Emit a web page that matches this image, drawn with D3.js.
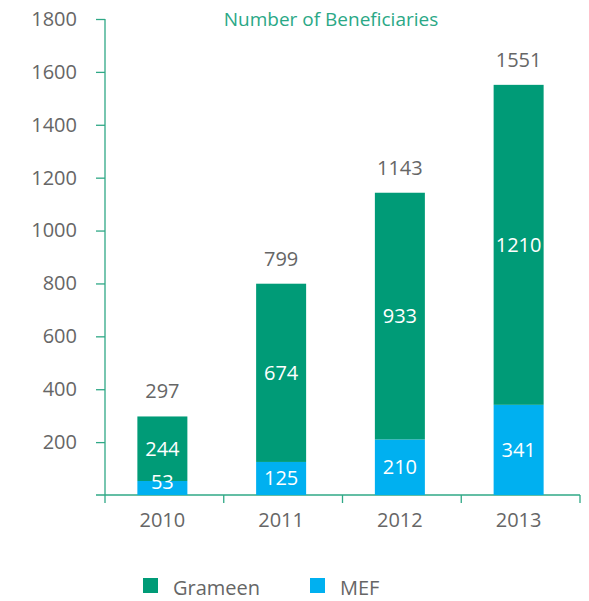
<!DOCTYPE html>
<html>
<head>
<meta charset="utf-8">
<script src="https://cdn.jsdelivr.net/npm/d3@7"></script>
<style>
  body { margin: 0; background: #fff; }
  svg text { font-family: "Open Sans", "Noto Sans", sans-serif; }
  .axis path, .axis line { stroke: #2fa886; stroke-width: 1.3; }
  .axis text { fill: #666; font-size: 20px; }
</style>
</head>
<body>
<div id="chart"></div>
<script>
'use strict';

// data
const years = ['2010', '2011', '2012', '2013'];
const grameen = [244, 674, 933, 1210];
const mef = [53, 125, 210, 341];
const totals = [297, 799, 1143, 1551];
const y_ticks = [200, 400, 600, 800, 1000, 1200, 1400, 1600, 1800];

const svg_width = 589, svg_height = 601;
const colors = { grameen: '#009b77', mef: '#00b0f0' };

const svg = d3.select('#chart').append('svg')
    .attr('width', svg_width)
    .attr('height', svg_height);

// scales
const scale_x = d3.scaleBand().domain(years).range([105, 580]);
const scale_y = d3.scaleLinear().domain([0, 1800]).range([495, 19]);
const bar_w = 50;

// y axis (line + ticks)
const axis_y = svg.append('g')
    .attr('class', 'axis')
    .attr('transform', 'translate(105,0)')
    .call(d3.axisLeft(scale_y).tickValues(y_ticks).tickFormat(d3.format('d'))
        .tickSize(9).tickSizeOuter(0).tickPadding(19));
axis_y.select('.domain').attr('d', `M0,${scale_y(1800)}V${scale_y(0)}`);

// x axis: line from 96, ticks on category boundaries
const axis_x = svg.append('g').attr('class', 'axis');
axis_x.append('line')
    .attr('x1', 96).attr('x2', 580)
    .attr('y1', scale_y(0)).attr('y2', scale_y(0));
const bounds = years.map(d => scale_x(d)).concat([scale_x.range()[1]]);
axis_x.selectAll('line.tick').data(bounds).join('line')
    .attr('class', 'tick')
    .attr('x1', d => d).attr('x2', d => d)
    .attr('y1', scale_y(0)).attr('y2', scale_y(0) + 8);
axis_x.selectAll('text').data(years).join('text')
    .attr('x', d => scale_x(d) + scale_x.bandwidth() / 2 - 2)
    .attr('y', 527)
    .attr('text-anchor', 'middle')
    .text(d => d);

// stacked bars
const rows = years.map((y, i) => ({ k: y, mef: mef[i], grameen: grameen[i], total: totals[i] }));
const cx = d => scale_x(d.k) + scale_x.bandwidth() / 2 - 2;

const bars = svg.append('g');
bars.selectAll('rect.mef').data(rows).join('rect')
    .attr('class', 'mef')
    .attr('x', d => cx(d) - bar_w / 2)
    .attr('width', bar_w)
    .attr('y', d => scale_y(d.mef))
    .attr('height', d => scale_y(0) - scale_y(d.mef))
    .attr('fill', colors.mef);
bars.selectAll('rect.grameen').data(rows).join('rect')
    .attr('class', 'grameen')
    .attr('x', d => cx(d) - bar_w / 2)
    .attr('width', bar_w)
    .attr('y', d => scale_y(d.mef + d.grameen))
    .attr('height', d => scale_y(d.mef) - scale_y(d.mef + d.grameen))
    .attr('fill', colors.grameen);

// value labels inside segments
const inner = svg.append('g')
    .attr('fill', '#fff')
    .attr('font-size', 20)
    .attr('text-anchor', 'middle');
inner.selectAll('text.m').data(rows).join('text')
    .attr('x', cx)
    .attr('y', d => Math.min((scale_y(0) + scale_y(d.mef)) / 2, scale_y(0) - 13))
    .attr('dy', '0.35em')
    .text(d => d.mef);
inner.selectAll('text.g').data(rows).join('text')
    .attr('x', cx)
    .attr('y', d => (scale_y(d.mef) + scale_y(d.mef + d.grameen)) / 2)
    .attr('dy', '0.35em')
    .text(d => d.grameen);

// totals above bars
svg.append('g').selectAll('text').data(rows).join('text')
    .attr('x', cx)
    .attr('y', d => scale_y(d.total) - 25)
    .attr('dy', '0.35em')
    .attr('text-anchor', 'middle')
    .attr('fill', '#666')
    .attr('font-size', 20)
    .text(d => d.total);

// title
svg.append('text')
    .attr('x', 331).attr('y', 26)
    .attr('text-anchor', 'middle')
    .attr('fill', '#2aa886')
    .attr('font-size', 19)
    .text('Number of Beneficiaries');

// legend
const legend = [
    { name: 'Grameen', color: colors.grameen, x: 143 },
    { name: 'MEF', color: colors.mef, x: 310 }
];
const lg = svg.append('g').selectAll('g').data(legend).join('g')
    .attr('transform', d => `translate(${d.x},578)`);
lg.append('rect').attr('width', 15).attr('height', 15).attr('fill', d => d.color);
lg.append('text')
    .attr('x', 30).attr('y', 17)
    .attr('fill', '#666')
    .attr('font-size', 20)
    .text(d => d.name);
</script>
</body>
</html>
